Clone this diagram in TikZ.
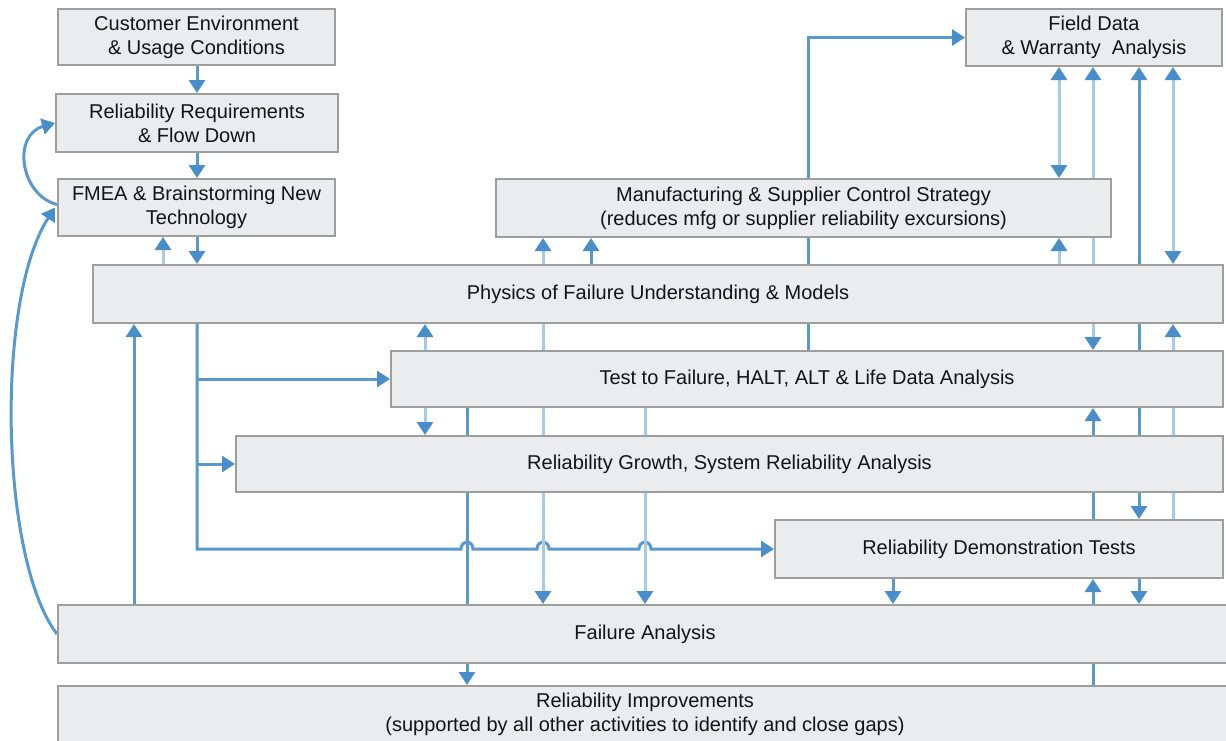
\documentclass[tikz,border=0pt]{standalone}
\usepackage{fontspec}
\setmainfont{Liberation Sans}
\usetikzlibrary{arrows.meta,calc}
\pgfdeclarelayer{bg}
\pgfsetlayers{bg,main}
\definecolor{boxfill}{RGB}{235,236,238}
\definecolor{boxline}{RGB}{158,158,158}
\definecolor{lnmid}{RGB}{88,153,208}
\definecolor{lnlight}{RGB}{165,203,232}
\definecolor{tipblue}{RGB}{72,142,202}
\definecolor{txt}{RGB}{20,20,20}
\begin{document}
\begin{tikzpicture}[x=1pt,y=-1pt,
  box/.style={draw=boxline, line width=2pt, fill=boxfill, align=center, inner sep=0pt, text=txt, font=\fontsize{20}{24}\selectfont},
  ln/.style={line width=3pt, draw=lnmid},
  lt/.style={line width=3pt, draw=lnlight},
  tip/.style={-{Triangle[width=16pt,length=13pt,color=tipblue]}},
  tipb/.style={{Triangle[width=16pt,length=13pt,color=tipblue]}-{Triangle[width=16pt,length=13pt,color=tipblue]}},
]
\useasboundingbox (0,0) rectangle (1226,740);
\clip (0,0) rectangle (1226,740);

% boxes
\node[box, minimum width=277pt, minimum height=56pt] (ce) at (196.5,37) {Customer Environment\\\& Usage Conditions};
\node[box, minimum width=282pt, minimum height=58pt] (rr) at (197,123) {Reliability Requirements\\\& Flow Down};
\node[box, minimum width=277pt, minimum height=57pt] (fmea) at (196.5,207.5) {FMEA \& Brainstorming New\\Technology};
\node[box, minimum width=256pt, minimum height=57pt] (fd) at (1094,37.5) {Field Data\\\& Warranty\ \ Analysis};
\node[box, minimum width=615pt, minimum height=58pt] (msc) at (803.5,208) {Manufacturing \& Supplier Control Strategy\\(reduces mfg or supplier reliability excursions)};
\node[box, minimum width=1130pt, minimum height=58pt] (pof) at (658,294) {Physics of Failure Understanding \& Models};
\node[box, minimum width=832pt, minimum height=56pt] (ttf) at (807,379) {Test to Failure, HALT, ALT \& Life Data Analysis};
\node[box, minimum width=987pt, minimum height=56pt] (rg) at (729.5,464) {Reliability Growth, System Reliability Analysis};
\node[box, minimum width=448pt, minimum height=58pt] (rdt) at (999,549) {Reliability Demonstration Tests};
\node[box, minimum width=1174pt, minimum height=58pt] (fa) at (645,634) {Failure Analysis};
\node[box, minimum width=1174pt, minimum height=56pt] (ri) at (645,714) {Reliability Improvements\\(supported by all other activities to identify and close gaps)};

% x positions of vertical connectors
\coordinate (x134) at (134,0);
\coordinate (x163) at (163,0);
\coordinate (x197) at (197,0);
\coordinate (x425) at (425,0);
\coordinate (x467) at (467,0);
\coordinate (x543) at (543,0);
\coordinate (x591) at (591,0);
\coordinate (x645) at (645,0);
\coordinate (x808) at (808,0);
\coordinate (x893) at (893,0);
\coordinate (x1059) at (1059,0);
\coordinate (x1093) at (1093,0);
\coordinate (x1139) at (1139,0);
\coordinate (x1173) at (1173,0);

\begin{pgfonlayer}{bg}
% top left chain
\draw[ln,tip] (ce.south -| x197) -- (rr.north -| x197);
\draw[ln,tip] (rr.south -| x197) -- (fmea.north -| x197);
\draw[lt,tip] (pof.north -| x163) -- (fmea.south -| x163);
\draw[ln,tip] (fmea.south -| x197) -- (pof.north -| x197);
% curves on the left
\draw[ln,tip] ($(fmea.west)+(0,-3)$) .. controls (20,195) and (12,135) .. (rr.west);
\draw[ln,tip] (fa.west) .. controls (0,560) and (-5,300) .. ($(fmea.west)+(-2,0)$);
% x=134
\draw[ln,tip] (fa.north -| x134) -- (pof.south -| x134);
% trunk from physics of failure
\draw[ln,tip] (pof.south -| x197) -- (rdt.west -| x197)
  -- (461,549) .. controls (461,540) and (473,540) .. (473,549)
  -- (537,549) .. controls (537,540) and (549,540) .. (549,549)
  -- (639,549) .. controls (639,540) and (651,540) .. (651,549)
  -- (rdt.west);
\draw[ln,tip] (ttf.west -| x197) -- (ttf.west);
\draw[ln,tip] (rg.west -| x197) -- (rg.west);
% x=425
\draw[lt,tip] (ttf.north -| x425) -- (pof.south -| x425);
\draw[lt,tip] (ttf.south -| x425) -- (rg.north -| x425);
% x=467
\draw[ln] (ttf.south -| x467) -- (rg.north -| x467);
\draw[ln] (rg.south -| x467) -- (fa.north -| x467);
\draw[ln,tip] (fa.south -| x467) -- (ri.north -| x467);
% x=543
\draw[lt,tip] (pof.north -| x543) -- (msc.south -| x543);
\draw[lt] (pof.south -| x543) -- (ttf.north -| x543);
\draw[lt] (ttf.south -| x543) -- (rg.north -| x543);
\draw[lt,tip] (rg.south -| x543) -- (fa.north -| x543);
% x=591
\draw[ln,tip] (pof.north -| x591) -- (msc.south -| x591);
% x=645
\draw[lt] (ttf.south -| x645) -- (rg.north -| x645);
\draw[lt,tip] (rg.south -| x645) -- (fa.north -| x645);
% x=808
\draw[ln] (ttf.north -| x808) -- (pof.south -| x808);
\draw[ln] (pof.north -| x808) -- (msc.south -| x808);
\draw[ln,tip] (msc.north -| x808) -- (fd.west -| x808) -- (fd.west);
% x=893
\draw[ln,tip] (rdt.south -| x893) -- (fa.north -| x893);
% x=1059
\draw[lt,tipb] (fd.south -| x1059) -- (msc.north -| x1059);
\draw[lt,tip] (pof.north -| x1059) -- (msc.south -| x1059);
% x=1093
\draw[lt,tip] (msc.north -| x1093) -- (fd.south -| x1093);
\draw[lt] (msc.south -| x1093) -- (pof.north -| x1093);
\draw[lt,tip] (pof.south -| x1093) -- (ttf.north -| x1093);
\draw[ln,tip] (rg.north -| x1093) -- (ttf.south -| x1093);
\draw[ln] (rg.south -| x1093) -- (rdt.north -| x1093);
\draw[ln,tip] (fa.north -| x1093) -- (rdt.south -| x1093);
\draw[ln] (ri.north -| x1093) -- (fa.south -| x1093);
% x=1139
\draw[ln,tip] (pof.north -| x1139) -- (fd.south -| x1139);
\draw[ln] (pof.south -| x1139) -- (ttf.north -| x1139);
\draw[ln] (ttf.south -| x1139) -- (rg.north -| x1139);
\draw[ln,tip] (rg.south -| x1139) -- (rdt.north -| x1139);
\draw[ln,tip] (rdt.south -| x1139) -- (fa.north -| x1139);
% x=1173
\draw[lt,tipb] (fd.south -| x1173) -- (pof.north -| x1173);
\draw[lt,tip] (ttf.north -| x1173) -- (pof.south -| x1173);
\draw[lt] (ttf.south -| x1173) -- (rg.north -| x1173);
\draw[lt] (rg.south -| x1173) -- (rdt.north -| x1173);
\end{pgfonlayer}
\end{tikzpicture}
\end{document}
